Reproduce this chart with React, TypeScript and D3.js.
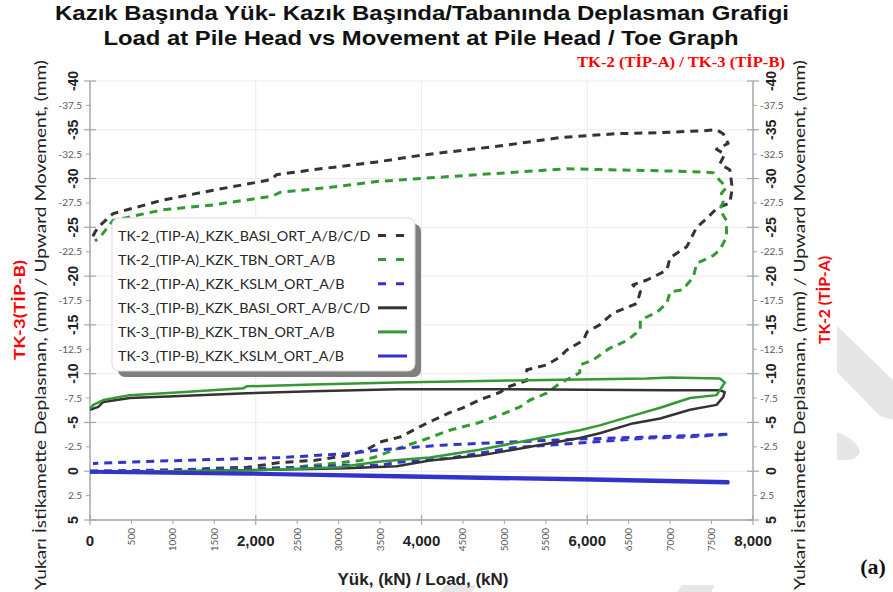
import * as d3 from 'd3';

// chart data: [load kN, movement mm]
const titleLines = [
  'Kazık Başında Yük- Kazık Başında/Tabanında Deplasman Grafigi',
  'Load at Pile Head vs Movement at Pile Head / Toe Graph',
];
const yTitle = 'Yukarı İstikamette Deplasman, (mm) / Upward Movement, (mm)';
const xTitle = 'Yük, (kN) / Load, (kN)';

const xMajorTicks = [0, 2000, 4000, 6000, 8000];
const xMinorTicks = [500, 1000, 1500, 2500, 3000, 3500, 4500, 5000, 5500, 6500, 7000, 7500];
const yMajorTicks = [-40, -35, -30, -25, -20, -15, -10, -5, 0, 5];
const yMinorTicks = [-37.5, -32.5, -27.5, -22.5, -17.5, -12.5, -7.5, -2.5, 2.5];

const tk2Basi: [number, number][] = [
  [0, 0.1], [500, 0.1], [1000, -0.1], [1500, -0.3], [1900, -0.4], [2300, -0.9], [2700, -1.1],
  [3100, -1.6], [3340, -2.2], [3500, -3.0], [3740, -3.5], [4060, -4.9], [4340, -6.0], [4500, -6.5],
  [4700, -7.3], [4950, -8.1], [5030, -8.6], [5270, -9.3], [5270, -10.4], [5510, -10.9], [5670, -11.7],
  [5750, -12.4], [5950, -13.4], [6000, -14.3], [6150, -15.0], [6310, -16.2], [6600, -17.2],
  [6640, -18.4], [6550, -19.1], [6720, -19.6], [6960, -20.6], [7000, -21.9], [7200, -23.0],
  [7320, -25.0], [7440, -25.9], [7570, -27.0], [7720, -27.5], [7750, -29.0], [7720, -30.9],
  [7600, -31.5], [7660, -32.5], [7560, -33.0], [7700, -33.6], [7640, -34.6], [7560, -35.0],
  [7400, -34.9], [6880, -34.7], [6360, -34.6], [5670, -34.2], [5000, -33.4], [4000, -32.4],
  [3460, -31.7], [2690, -30.9], [2250, -30.4], [2200, -30.0], [2130, -29.8], [1485, -28.8],
  [880, -27.8], [278, -26.4], [121, -25.2], [60, -24.5], [30, -24.0],
];
const tk2Tbn: [number, number][] = [
  [0, 0], [1000, -0.1], [2000, -0.3], [2450, -0.4], [2930, -0.8], [3260, -1.1], [3420, -1.4],
  [3740, -2.4], [4020, -3.2], [4340, -4.2], [4700, -5.0], [4990, -5.9], [5190, -6.6], [5310, -7.3],
  [5510, -8.0], [5670, -9.0], [5910, -10.1], [5910, -10.9], [6070, -11.4], [6270, -12.6],
  [6480, -13.4], [6640, -14.5], [6640, -15.5], [6840, -16.3], [6960, -17.2], [7000, -18.4],
  [7150, -18.6], [7280, -19.9], [7320, -21.3], [7520, -22.1], [7600, -22.7], [7680, -24.0],
  [7680, -25.7], [7600, -26.8], [7640, -27.6], [7620, -28.5], [7680, -29.1], [7600, -29.8],
  [7520, -30.6], [7280, -30.7], [6880, -30.8], [6270, -30.9], [5750, -31.0], [4500, -30.3],
  [3460, -29.7], [2900, -29.1], [2300, -28.6], [2200, -28.2], [1485, -27.3], [880, -26.8],
  [278, -25.7], [121, -24.0], [60, -23.6],
];
const tk2Kslm: [number, number][] = [
  [0, 0], [1500, -0.2], [2300, -0.3], [3100, -0.6], [3500, -0.6], [3700, -0.9], [4300, -1.3],
  [5100, -2.4], [5910, -2.9], [6720, -3.4], [7200, -3.5], [7720, -3.8],
  [6720, -3.5], [5910, -3.3], [5100, -3.0], [4300, -2.7], [3500, -2.2], [3100, -1.8],
  [2290, -1.4], [1490, -1.2], [690, -1.0], [36, -0.8],
];
const tk3Basi: [number, number][] = [
  [0, 0], [1000, 0], [1900, -0.1], [2500, -0.2], [3100, -0.3], [3700, -0.5], [4100, -1.1],
  [4700, -1.6], [5310, -2.5], [5910, -3.4], [6150, -3.9], [6550, -4.9], [6880, -5.4],
  [7240, -6.3], [7560, -6.8], [7640, -7.6], [7660, -8.1], [7600, -8.3],
  [7000, -8.3], [5000, -8.4], [3700, -8.4], [2690, -8.2], [1890, -8.0], [1090, -7.7],
  [480, -7.5], [160, -7.1], [100, -6.6], [0, -6.3],
];
const tk3Tbn: [number, number][] = [
  [0, 0], [1000, 0], [2000, -0.1], [3000, -0.4], [3500, -1.0], [4100, -1.4], [4700, -2.2],
  [5310, -3.2], [5910, -4.2], [6150, -4.7], [6550, -5.7], [6880, -6.5], [7240, -7.5],
  [7560, -7.8], [7660, -9.1], [7600, -9.5],
  [7000, -9.6], [6720, -9.5], [5100, -9.3], [3700, -9.1], [2690, -8.9], [1890, -8.7],
  [1850, -8.5], [1090, -8.1], [480, -7.8], [160, -7.3], [40, -6.8], [0, -6.4],
];
const tk3Kslm: [number, number][] = [
  [0, 0.1], [1900, 0.3], [3700, 0.6], [5900, 0.9], [7700, 1.2],
  [7700, 1.05], [5900, 0.75], [3700, 0.45], [1900, 0.2], [0, 0.0],
];

const seriesNames = [
  'TK-2_(TIP-A)_KZK_BASI_ORT_A/B/C/D',
  'TK-2_(TIP-A)_KZK_TBN_ORT_A/B',
  'TK-2_(TIP-A)_KZK_KSLM_ORT_A/B',
  'TK-3_(TIP-B)_KZK_BASI_ORT_A/B/C/D',
  'TK-3_(TIP-B)_KZK_TBN_ORT_A/B',
  'TK-3_(TIP-B)_KZK_KSLM_ORT_A/B',
];
const seriesData = [tk2Basi, tk2Tbn, tk2Kslm, tk3Basi, tk3Tbn, tk3Kslm];
const seriesColors = ['#333333', '#339933', '#3333cc', '#333333', '#339933', '#3333cc'];
const seriesDashed = [true, true, true, false, false, false];

const W = 893;
const H = 592;

const App = () => {
  const x = d3.scaleLinear().domain([0, 8000]).range([90, 753]);
  const y = d3.scaleLinear().domain([-40, 5]).range([81, 520]);
  const line = d3.line<[number, number]>().x(d => x(d[0])).y(d => y(d[1]));

  const axisCol = '#a6a6a6';
  const gridCol = '#ececec';
  const tickFont = 'Liberation Sans, Arial, sans-serif';
  const titleFont = '"Liberation Sans Narrow", "Liberation Sans", Arial, sans-serif';
  const labelFont = 'Lato, "Open Sans", sans-serif';
  const yMid = 325;

  return (
    <div style={{ position: 'absolute', left: 0, top: 0 }}>
      <svg width={W} height={H} style={{ display: 'block', background: '#fff' }}>
        {/* watermark bits */}
        <g fill="#e6e6e6">
          <path d="M837,326 L893,380 L893,420 L880,416 L837,372 Z" />
          <path d="M837,432 Q858,440 860,452 Q856,461 845,460 L837,460 Z" />
          <path d="M682,585 L715,585 L711,592 L677,592 Z" />
          <path d="M445,585 L476,585 L472,592 L440,592 Z" />
        </g>

        {/* titles */}
        <text x={422} y={20} textAnchor="middle" fontFamily={titleFont} fontWeight="bold" fontSize={20}
          fill="#111" textLength={734} lengthAdjust="spacingAndGlyphs">{titleLines[0]}</text>
        <text x={421} y={45} textAnchor="middle" fontFamily={titleFont} fontWeight="bold" fontSize={20}
          fill="#111" textLength={635} lengthAdjust="spacingAndGlyphs">{titleLines[1]}</text>
        <text x={785} y={67} textAnchor="end" fontFamily="Liberation Serif, 'Times New Roman', serif" fontWeight="bold"
          fontSize={15} fill="#ff0000" textLength={208} lengthAdjust="spacingAndGlyphs">TK-2 (TİP-A) / TK-3 (TİP-B)</text>

        {/* grid */}
        {yMajorTicks.map(t => (
          <line key={'gy' + t} x1={90} x2={753} y1={y(t)} y2={y(t)} stroke={gridCol} strokeWidth={1} />
        ))}
        {[2000, 4000, 6000].map(t => (
          <line key={'gx' + t} x1={x(t)} x2={x(t)} y1={81} y2={520} stroke={gridCol} strokeWidth={1} />
        ))}

        {/* axes */}
        <line x1={90} x2={90} y1={81} y2={520} stroke={axisCol} strokeWidth={1.5} />
        <line x1={753} x2={753} y1={81} y2={520} stroke={axisCol} strokeWidth={1.5} />
        <line x1={90} x2={753} y1={520} y2={520} stroke={axisCol} strokeWidth={1.5} />

        {yMajorTicks.map(t => (
          <g key={'ym' + t}>
            <line x1={84} x2={96} y1={y(t)} y2={y(t)} stroke={axisCol} strokeWidth={1.2} />
            <line x1={747} x2={759} y1={y(t)} y2={y(t)} stroke={axisCol} strokeWidth={1.2} />
            <text transform={`translate(78,${y(t)}) rotate(-90)`} textAnchor="middle" fontFamily={tickFont}
              fontWeight="bold" fontSize={14} fill="#222">{t}</text>
            <text transform={`translate(776,${y(t)}) rotate(-90)`} textAnchor="middle" fontFamily={tickFont}
              fontWeight="bold" fontSize={14} fill="#222">{t}</text>
          </g>
        ))}
        {yMinorTicks.map(t => (
          <g key={'yn' + t}>
            <line x1={86} x2={90} y1={y(t)} y2={y(t)} stroke={axisCol} strokeWidth={1} />
            <line x1={753} x2={757} y1={y(t)} y2={y(t)} stroke={axisCol} strokeWidth={1} />
            <text x={82} y={y(t)} dy="0.35em" textAnchor="end" fontFamily={labelFont} fontSize={10}
              fill="#595959">{t}</text>
            <text x={760} y={y(t)} dy="0.35em" textAnchor="start" fontFamily={labelFont} fontSize={10}
              fill="#595959">{t}</text>
          </g>
        ))}

        {xMajorTicks.map(t => (
          <g key={'xm' + t}>
            <line x1={x(t)} x2={x(t)} y1={515} y2={525} stroke={axisCol} strokeWidth={1.2} />
            <text x={x(t)} y={546} textAnchor="middle" fontFamily={tickFont} fontWeight="bold" fontSize={15}
              fill="#222">{d3.format(',')(t)}</text>
          </g>
        ))}
        {xMinorTicks.map(t => (
          <g key={'xn' + t}>
            <line x1={x(t)} x2={x(t)} y1={520} y2={524} stroke={axisCol} strokeWidth={1} />
            <text transform={`translate(${x(t) + 3.5},528) rotate(-90)`} textAnchor="end" fontFamily={labelFont}
              fontSize={10} fill="#595959">{t}</text>
          </g>
        ))}

        {/* axis titles */}
        <text x={423} y={585} textAnchor="middle" fontFamily={tickFont} fontWeight="bold" fontSize={17}
          fill="#222">{xTitle}</text>
        <text transform={`translate(46,${yMid}) rotate(-90)`} textAnchor="middle" fontFamily={labelFont}
          fontSize={16} fill="#222" textLength={530} lengthAdjust="spacingAndGlyphs">{yTitle}</text>
        <text transform={`translate(805,${yMid}) rotate(-90)`} textAnchor="middle" fontFamily={labelFont}
          fontSize={16} fill="#222" textLength={530} lengthAdjust="spacingAndGlyphs">{yTitle}</text>
        <text transform="translate(25,310) rotate(-90)" textAnchor="middle" fontFamily={labelFont}
          fontWeight="bold" fontSize={15} fill="#ff0000" textLength={100} lengthAdjust="spacingAndGlyphs">TK-3(TİP-B)</text>
        <text transform="translate(830,300) rotate(-90)" textAnchor="middle" fontFamily={labelFont}
          fontWeight="bold" fontSize={15} fill="#ff0000" textLength={88} lengthAdjust="spacingAndGlyphs">TK-2 (TİP-A)</text>

        {/* series */}
        {seriesData.map((d, i) => (
          <path key={'s' + i} d={line(d) || ''} fill="none" stroke={seriesColors[i]}
            strokeWidth={seriesDashed[i] ? 3 : (i === 5 ? 3 : 2.5)} strokeDasharray={seriesDashed[i] ? '8,6' : undefined}
            strokeLinejoin="round" />
        ))}

        {/* legend */}
        <rect x={118} y={224} width={303} height={153} rx={7} fill="#7f7f7f" />
        <rect x={112} y={218} width={303} height={153} rx={7} fill="#fff" stroke="#d9d9d9" strokeWidth={1} />
        {seriesNames.map((n, i) => {
          const ly = 235.5 + i * 24.1;
          return (
            <g key={'lg' + i}>
              <text x={118} y={ly} dy="0.35em" fontFamily={labelFont} fontSize={14.3} fill="#262626">{n}</text>
              <line x1={378} x2={407} y1={ly} y2={ly} stroke={seriesColors[i]} strokeWidth={3}
                strokeDasharray={seriesDashed[i] ? '8,10' : undefined} />
            </g>
          );
        })}

        <text x={873} y={574} textAnchor="middle" fontFamily="Liberation Serif, 'Times New Roman', serif"
          fontWeight="bold" fontSize={22} fill="#111">(a)</text>
      </svg>
    </div>
  );
};

export default App;
